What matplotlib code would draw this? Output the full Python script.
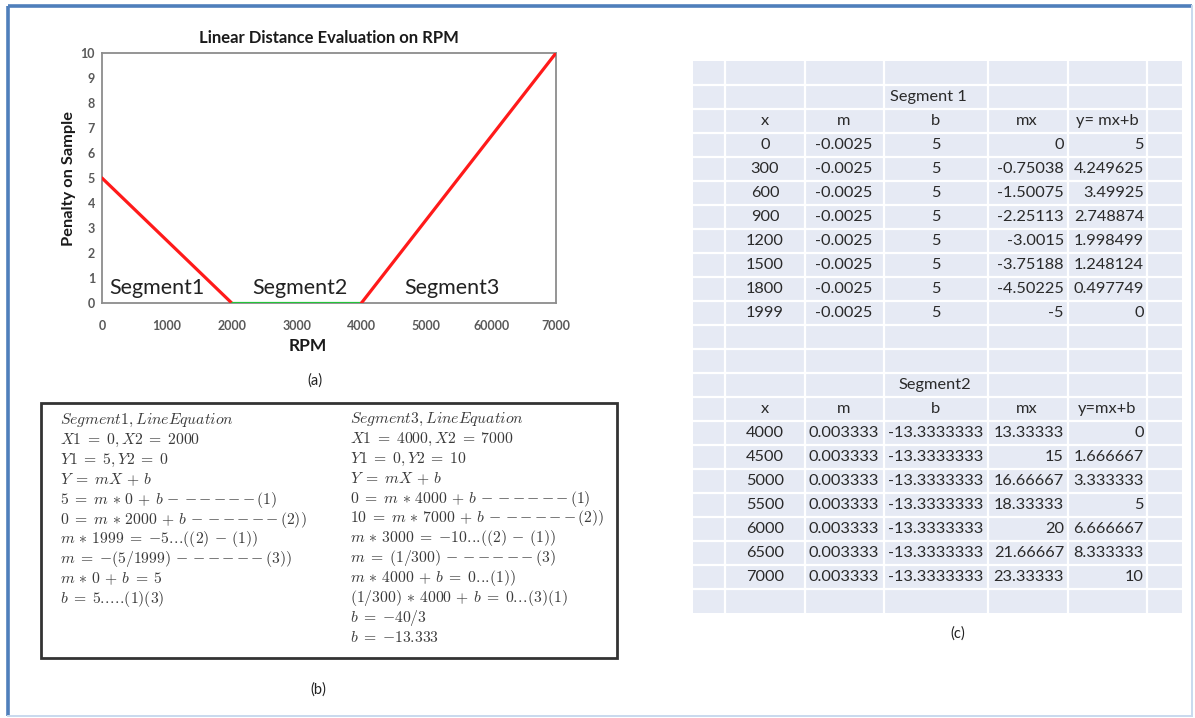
import matplotlib
matplotlib.use("Agg")
import matplotlib.pyplot as plt
from matplotlib.patches import Rectangle

plt.rcParams["mathtext.fontset"] = "cm"

# ---------------- panel (a): penalty curve ----------------
rpm = [0, 2000, 4000, 7000]
penalty = [5, 0, 0, 10]
segment_colors = ["#ff1a1a", "#22c43a", "#ff1a1a"]
x_ticks = [0, 1000, 2000, 3000, 4000, 5000, 6000, 7000]
x_tick_labels = ["0", "1000", "2000", "3000", "4000", "5000", "60000", "7000"]
y_ticks = list(range(0, 11))
segment_names = ["Segment1", "Segment2", "Segment3"]
segment_label_x = [850, 3050, 5400]

# ---------------- panel (b): derivation lines ----------------
# spacing macros keep the typeset look of the equations
EQ = r"\;=\;"
PL = r"\,+\,"
ST = r"\,\ast\,"
DASH = r"\,-\," + r"\,".join(["{-}"] * 5) + r"\,"
DOTS3 = r".\!" * 3
DOTS5 = r".\!" * 5
MI = r"\,-\,"
NEG = r"{-}"

seg1_lines = [
    r"$Segment1, LineEquation$",
    r"$X1" + EQ + r"0, X2" + EQ + r"2000$",
    r"$Y1" + EQ + r"5, Y2" + EQ + r"0$",
    r"$Y" + EQ + r"mX" + PL + r"b$",
    r"$5" + EQ + r"m" + ST + r"0" + PL + r"b" + DASH + r"(1)$",
    r"$0" + EQ + r"m" + ST + r"2000" + PL + r"b" + DASH + r"(2))$",
    r"$m" + ST + r"1999" + EQ + NEG + r"5" + DOTS3 + r"((2)" + MI + r"(1))$",
    r"$m" + EQ + NEG + r"(5/1999)" + DASH + r"(3))$",
    r"$m" + ST + r"0" + PL + r"b" + EQ + r"5$",
    r"$b" + EQ + r"5" + DOTS5 + r"(1)(3)$",
]
seg3_lines = [
    r"$Segment3, LineEquation$",
    r"$X1" + EQ + r"4000, X2" + EQ + r"7000$",
    r"$Y1" + EQ + r"0, Y2" + EQ + r"10$",
    r"$Y" + EQ + r"mX" + PL + r"b$",
    r"$0" + EQ + r"m" + ST + r"4000" + PL + r"b" + DASH + r"(1)$",
    r"$10" + EQ + r"m" + ST + r"7000" + PL + r"b" + DASH + r"(2))$",
    r"$m" + ST + r"3000" + EQ + NEG + r"10" + DOTS3 + r"((2)" + MI + r"(1))$",
    r"$m" + EQ + r"(1/300)" + DASH + r"(3)$",
    r"$m" + ST + r"4000" + PL + r"b" + EQ + r"0" + DOTS3 + r"(1))$",
    r"$(1/300)" + ST + r"4000" + PL + r"b" + EQ + r"0" + DOTS3 + r"(3)(1)$",
    r"$b" + EQ + NEG + r"40/3$",
    r"$b" + EQ + NEG + r"13.333$",
]

# ---------------- panel (c): spreadsheet values ----------------
s1_header = ["x", "m", "b", "mx", "y= mx+b"]
s1_x = ["0", "300", "600", "900", "1200", "1500", "1800", "1999"]
s1_m = ["-0.0025"] * 8
s1_b = ["5"] * 8
s1_mx = ["0", "-0.75038", "-1.50075", "-2.25113", "-3.0015", "-3.75188", "-4.50225", "-5"]
s1_y = ["5", "4.249625", "3.49925", "2.748874", "1.998499", "1.248124", "0.497749", "0"]

s2_header = ["x", "m", "b", "mx", "y=mx+b"]
s2_x = ["4000", "4500", "5000", "5500", "6000", "6500", "7000"]
s2_m = ["0.003333"] * 7
s2_b = ["-13.3333333"] * 7
s2_mx = ["13.33333", "15", "16.66667", "18.33333", "20", "21.66667", "23.33333"]
s2_y = ["0", "1.666667", "3.333333", "5", "6.666667", "8.333333", "10"]

W, H = 1195, 718
fig = plt.figure(figsize=(W / 100, H / 100), dpi=100)
fig.patch.set_facecolor("white")

# overlay in pixel units for the frame, box, table and captions
ov = fig.add_axes([0, 0, 1, 1])
ov.set_xlim(0, W)
ov.set_ylim(H, 0)
ov.axis("off")

# outer frame
ov.plot([8, 1192], [6, 6], color="#4f7fbb", lw=2.6, solid_capstyle="butt")
ov.plot([8, 8], [6, 716], color="#4f7fbb", lw=2.6, solid_capstyle="butt")
ov.plot([1192, 1192], [6, 716], color="#c9d9ee", lw=1.4)
ov.plot([8, 1192], [716, 716], color="#c9d9ee", lw=1.4)

# chart axes
L, R, T, B = 102, 556, 53, 303
ax = fig.add_axes([L / W, 1 - B / H, (R - L) / W, (B - T) / H])
for i in range(len(rpm) - 1):
    ax.plot(rpm[i:i + 2], penalty[i:i + 2], color=segment_colors[i], lw=2.3,
            solid_capstyle="round", zorder=3)
ax.set_xlim(0, 7000)
ax.set_ylim(0, 10)
ax.set_xticks(x_ticks)
ax.set_xticklabels(x_tick_labels)
ax.set_yticks(y_ticks)
ax.tick_params(length=0, labelsize=9, labelcolor="#595959")
ax.tick_params(axis="x", pad=12)
ax.tick_params(axis="y", pad=5)
for lab in ax.get_xticklabels() + ax.get_yticklabels():
    lab.set_fontweight("bold")
    lab.set_family("Lato")
for sp in ax.spines.values():
    sp.set_color("#8c8c8c")
    sp.set_linewidth(1.3)
ax.set_title("Linear Distance Evaluation on RPM", fontsize=12, fontweight="bold",
             family="Lato", color="#1a1a1a", pad=7)
ax.set_xlabel("RPM", fontsize=12.5, fontweight="bold", family="Lato", color="#1a1a1a")
ax.xaxis.set_label_coords((308 - L) / (R - L), -0.14)
ax.set_ylabel("Penalty on Sample", fontsize=11.8, fontweight="bold", family="Lato",
              color="#1a1a1a")
ax.yaxis.set_label_coords(-(L - 76) / (R - L), 0.5)
for name, sx in zip(segment_names, segment_label_x):
    ax.text(sx, 0.2, name, fontsize=15.5, family="Lato", color="#222222",
            ha="center", va="bottom")

ov.text(315, 381, "(a)", fontsize=10.5, family="Lato", ha="center", va="center",
        color="#222222")

# panel (b): derivation box
ov.add_patch(Rectangle((41, 403), 576, 255, fill=False, edgecolor="#333333", lw=2))
for k, line in enumerate(seg1_lines):
    ov.text(60, 424 + 19.9 * k, line, fontsize=11.3, color="#3a3a3a",
            ha="left", va="baseline")
for k, line in enumerate(seg3_lines):
    ov.text(350, 423 + 19.9 * k, line, fontsize=11.3, color="#3a3a3a",
            ha="left", va="baseline")
ov.text(318, 690, "(b)", fontsize=10.5, family="Lato", ha="center", va="center",
        color="#222222")

# panel (c): spreadsheet grid
col_edges = [693, 725, 805, 884, 988, 1068, 1147, 1182]
row_top, row_h, n_rows = 61, 24, 23
ov.add_patch(Rectangle((col_edges[0], row_top), col_edges[-1] - col_edges[0],
                       row_h * n_rows, facecolor="#e6eaf4", edgecolor="none"))
for xe in col_edges[1:-1]:
    ov.plot([xe, xe], [row_top, row_top + row_h * n_rows], color="white", lw=1.6)
for r in range(1, n_rows):
    yy = row_top + r * row_h
    ov.plot([col_edges[0], col_edges[-1]], [yy, yy], color="white", lw=1.6)

tfont = dict(fontsize=11.8, family="Lato", color="#2a2a2a", va="center")


def row_y(i):
    return row_top + row_h * i + row_h / 2


def draw_block(start, title, title_x, header, xs, ms, bs, mxs, ys):
    ov.text(title_x, row_y(start), title, ha="center", **tfont)
    hx = [765, 844, 936, 1027, 1107]
    for h, xh in zip(header, hx):
        ov.text(xh, row_y(start + 1), h, ha="center", **tfont)
    for j in range(len(xs)):
        yy = row_y(start + 2 + j)
        ov.text(765, yy, xs[j], ha="center", **tfont)
        ov.text(844, yy, ms[j], ha="center", **tfont)
        ov.text(936, yy, bs[j], ha="center", **tfont)
        ov.text(1064, yy, mxs[j], ha="right", **tfont)
        ov.text(1144, yy, ys[j], ha="right", **tfont)


draw_block(1, "Segment 1", 928, s1_header, s1_x, s1_m, s1_b, s1_mx, s1_y)
draw_block(13, "Segment2", 935, s2_header, s2_x, s2_m, s2_b, s2_mx, s2_y)

ov.text(958, 634, "(c)", fontsize=10.5, family="Lato", ha="center", va="center",
        color="#222222")

fig.savefig("out.png", dpi=100, facecolor="white")
